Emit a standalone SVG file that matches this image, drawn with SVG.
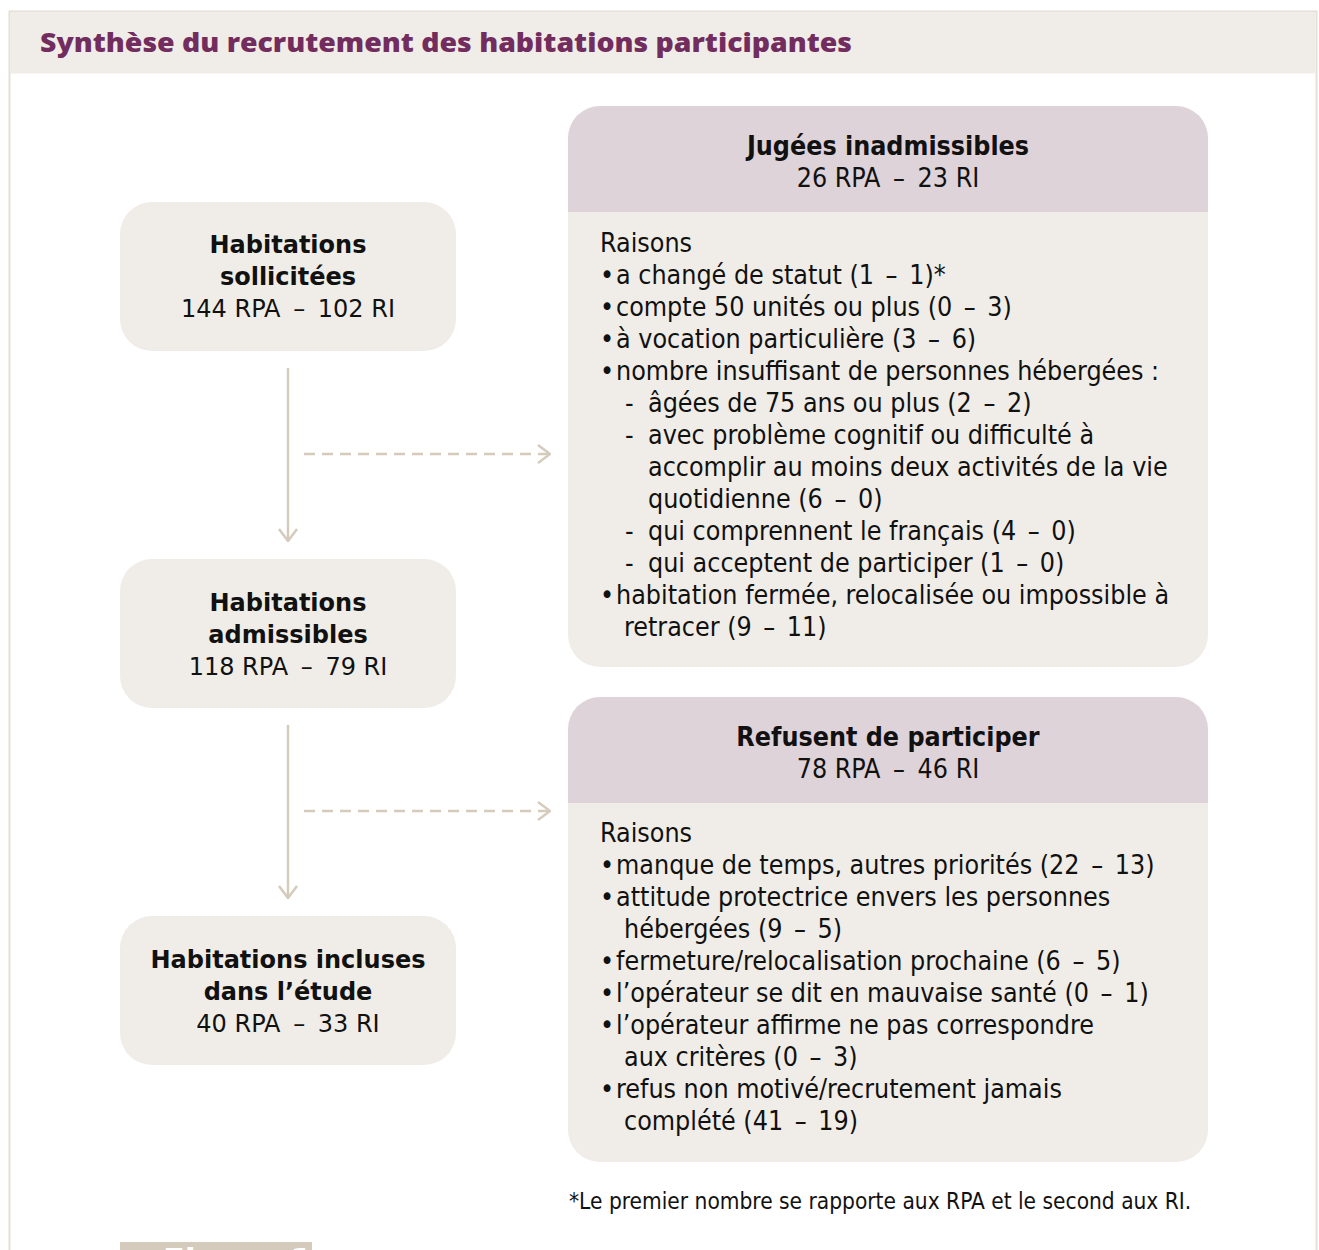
<svg xmlns="http://www.w3.org/2000/svg" width="1319" height="1250" viewBox="0 0 1319 1250">
<defs>
<style>
.node{fill:#f0ede8}
.hdr{fill:#dfd3da}
.lt{font-family:"DejaVu Sans",Verdana,sans-serif;font-size:24px;fill:#111;text-anchor:middle}
.b{font-weight:bold}
.rt{font-family:"DejaVu Sans Condensed","DejaVu Sans",sans-serif;font-size:26.6px;fill:#111}
.rc{text-anchor:middle}
.fn{font-family:"DejaVu Sans Condensed","DejaVu Sans",sans-serif;font-size:22.5px;fill:#111}
.con{stroke:#d5cbbd;stroke-width:2.5;fill:none}
.dash{stroke-dasharray:11 7}
</style>
<marker id="chev" viewBox="0 0 14 20" refX="13" refY="10" markerWidth="14" markerHeight="20" markerUnits="userSpaceOnUse" orient="auto">
<path d="M1,1 L13,10 L1,19" fill="none" stroke="#d5cbbd" stroke-width="2.5"/>
</marker>
<clipPath id="tabclip"><rect x="120" y="1242" width="192" height="8"/></clipPath>
</defs>
<rect width="1319" height="1250" fill="#fff"/>
<rect x="9.5" y="11.5" width="1307" height="1260" fill="#fff" stroke="#e6e0d8" stroke-width="2"/>
<rect x="10.5" y="12.5" width="1305" height="61" fill="#f0ede8"/>
<text x="40" y="52" font-family="'Open Sans','DejaVu Sans',sans-serif" font-weight="800" font-size="27" fill="#722d5e" textLength="812" lengthAdjust="spacingAndGlyphs">Synthèse du recrutement des habitations participantes</text>

<g id="connectors">
<line class="con" x1="288" y1="368" x2="288" y2="541" marker-end="url(#chev)"/>
<line class="con" x1="288" y1="725" x2="288" y2="898" marker-end="url(#chev)"/>
<line class="con dash" x1="304" y1="454" x2="550" y2="454" marker-end="url(#chev)"/>
<line class="con dash" x1="304" y1="811" x2="550" y2="811" marker-end="url(#chev)"/>
</g>

<g id="node-sollicitees">
<rect class="node" x="120" y="202" width="336" height="149" rx="32"/>
<text class="lt b" x="288" y="253">Habitations</text>
<text class="lt b" x="288" y="285">sollicitées</text>
<text class="lt" x="288" y="317">144 RPA <tspan dx="5">–</tspan><tspan dx="5"> 102 RI</tspan></text>
</g>
<g id="node-admissibles">
<rect class="node" x="120" y="559" width="336" height="149" rx="32"/>
<text class="lt b" x="288" y="611">Habitations</text>
<text class="lt b" x="288" y="643">admissibles</text>
<text class="lt" x="288" y="675">118 RPA <tspan dx="5">–</tspan><tspan dx="5"> 79 RI</tspan></text>
</g>
<g id="node-incluses">
<rect class="node" x="120" y="916" width="336" height="149" rx="32"/>
<text class="lt b" x="288" y="968">Habitations incluses</text>
<text class="lt b" x="288" y="1000">dans l’étude</text>
<text class="lt" x="288" y="1032">40 RPA <tspan dx="5">–</tspan><tspan dx="5"> 33 RI</tspan></text>
</g>

<g id="node-inadmissibles">
<path class="hdr" d="M568,212 V138 A32,32 0 0 1 600,106 H1176 A32,32 0 0 1 1208,138 V212 Z"/>
<path class="node" d="M568,212 H1208 V635 A32,32 0 0 1 1176,667 H600 A32,32 0 0 1 568,635 Z"/>
<text class="rt rc b" x="888" y="155">Jugées inadmissibles</text>
<text class="rt rc" x="888" y="187">26 RPA <tspan dx="5">–</tspan><tspan dx="5"> 23 RI</tspan></text>
<text class="rt" x="600" y="252">Raisons</text>
<text class="rt" x="600" y="284">•</text><text class="rt" x="616" y="284">a changé de statut (1 <tspan dx="4">–</tspan><tspan dx="4"> 1)*</tspan></text>
<text class="rt" x="600" y="316">•</text><text class="rt" x="616" y="316">compte 50 unités ou plus (0 <tspan dx="4">–</tspan><tspan dx="4"> 3)</tspan></text>
<text class="rt" x="600" y="348">•</text><text class="rt" x="616" y="348">à vocation particulière (3 <tspan dx="4">–</tspan><tspan dx="4"> 6)</tspan></text>
<text class="rt" x="600" y="380">•</text><text class="rt" x="616" y="380">nombre insuffisant de personnes hébergées :</text>
<text class="rt" x="625" y="412">-</text><text class="rt" x="648" y="412">âgées de 75 ans ou plus (2 <tspan dx="4">–</tspan><tspan dx="4"> 2)</tspan></text>
<text class="rt" x="625" y="444">-</text><text class="rt" x="648" y="444">avec problème cognitif ou difficulté à</text>
<text class="rt" x="648" y="476">accomplir au moins deux activités de la vie</text>
<text class="rt" x="648" y="508">quotidienne (6 <tspan dx="4">–</tspan><tspan dx="4"> 0)</tspan></text>
<text class="rt" x="625" y="540">-</text><text class="rt" x="648" y="540">qui comprennent le français (4 <tspan dx="4">–</tspan><tspan dx="4"> 0)</tspan></text>
<text class="rt" x="625" y="572">-</text><text class="rt" x="648" y="572">qui acceptent de participer (1 <tspan dx="4">–</tspan><tspan dx="4"> 0)</tspan></text>
<text class="rt" x="600" y="604">•</text><text class="rt" x="616" y="604">habitation fermée, relocalisée ou impossible à</text>
<text class="rt" x="624" y="636">retracer (9 <tspan dx="4">–</tspan><tspan dx="4"> 11)</tspan></text>
</g>

<g id="node-refusent">
<path class="hdr" d="M568,803 V729 A32,32 0 0 1 600,697 H1176 A32,32 0 0 1 1208,729 V803 Z"/>
<path class="node" d="M568,803 H1208 V1130 A32,32 0 0 1 1176,1162 H600 A32,32 0 0 1 568,1130 Z"/>
<text class="rt rc b" x="888" y="746">Refusent de participer</text>
<text class="rt rc" x="888" y="778">78 RPA <tspan dx="5">–</tspan><tspan dx="5"> 46 RI</tspan></text>
<text class="rt" x="600" y="842">Raisons</text>
<text class="rt" x="600" y="874">•</text><text class="rt" x="616" y="874">manque de temps, autres priorités (22 <tspan dx="4">–</tspan><tspan dx="4"> 13)</tspan></text>
<text class="rt" x="600" y="906">•</text><text class="rt" x="616" y="906">attitude protectrice envers les personnes</text>
<text class="rt" x="624" y="938">hébergées (9 <tspan dx="4">–</tspan><tspan dx="4"> 5)</tspan></text>
<text class="rt" x="600" y="970">•</text><text class="rt" x="616" y="970">fermeture/relocalisation prochaine (6 <tspan dx="4">–</tspan><tspan dx="4"> 5)</tspan></text>
<text class="rt" x="600" y="1002">•</text><text class="rt" x="616" y="1002">l’opérateur se dit en mauvaise santé (0 <tspan dx="4">–</tspan><tspan dx="4"> 1)</tspan></text>
<text class="rt" x="600" y="1034">•</text><text class="rt" x="616" y="1034">l’opérateur affirme ne pas correspondre</text>
<text class="rt" x="624" y="1066">aux critères (0 <tspan dx="4">–</tspan><tspan dx="4"> 3)</tspan></text>
<text class="rt" x="600" y="1098">•</text><text class="rt" x="616" y="1098">refus non motivé/recrutement jamais</text>
<text class="rt" x="624" y="1130">complété (41 <tspan dx="4">–</tspan><tspan dx="4"> 19)</tspan></text>
</g>

<text class="fn" x="569" y="1209">*Le premier nombre se rapporte aux RPA et le second aux RI.</text>

<g id="figure-tab">
<rect x="120" y="1242" width="192" height="8" fill="#d5cbbd"/>
<text x="163" y="1271" clip-path="url(#tabclip)" font-family="'DejaVu Sans',sans-serif" font-weight="bold" font-size="32" fill="#fff">Figure 1</text>
</g>
</svg>
